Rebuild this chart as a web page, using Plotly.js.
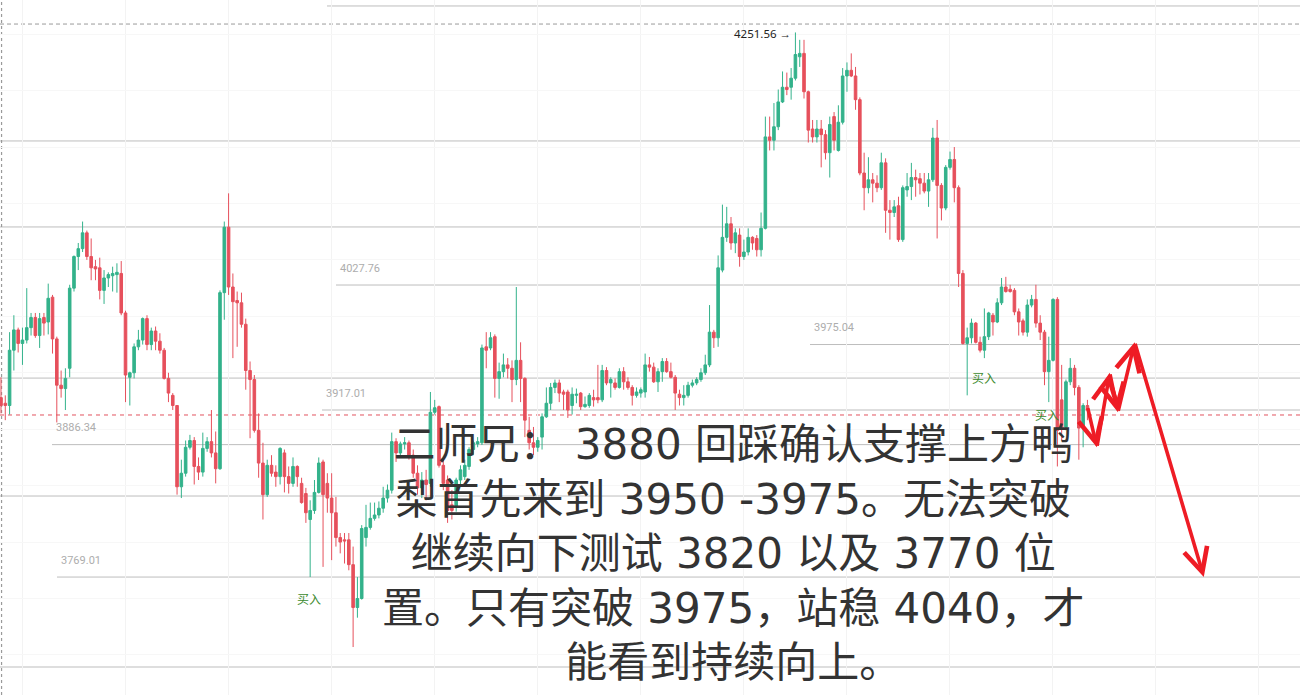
<!DOCTYPE html>
<html>
<head>
<meta charset="utf-8">
<script src="https://cdn.plot.ly/plotly-3.0.1.min.js"></script>
<style>html,body{margin:0;padding:0;background:#fff;}#chart{width:1300px;height:695px;}</style>
</head>
<body>
<div id="chart"></div>
<script>
// ---- candle data (price) ----
const open = [3928,3923,3921,3970,3988,3976,3979,3990,3999,3983,3999,3995,4017,3980,3939,3936,3954,4025,4053,4060,4074,4053,4044,4043,4023,4034,4036,4037,4038,4003,3946,3950,3973,3979,3998,3975,3987,3978,3970,3945,3930,3921,3849,3861,3884,3890,3867,3862,3883,3889,3879,3865,4021,4079,4026,4014,4012,3993,3952,3944,3899,3870,3842,3868,3862,3858,3879,3858,3852,3867,3852,3843,3820,3828,3844,3871,3852,3839,3826,3804,3802,3802,3780,3742,3750,3804,3813,3821,3824,3830,3839,3846,3889,3879,3887,3888,3877,3861,3848,3855,3852,3915,3920,3868,3855,3833,3831,3855,3858,3867,3882,3887,3888,3973,3972,3982,3945,3951,3957,3954,3944,3961,3945,3899,3888,3884,3893,3911,3923,3937,3941,3933,3933,3921,3930,3932,3920,3921,3928,3928,3926,3952,3941,3941,3937,3951,3942,3937,3930,3932,3933,3957,3955,3942,3951,3960,3951,3946,3931,3928,3930,3939,3941,3944,3950,3957,3986,3981,4041,4070,4082,4065,4072,4053,4057,4070,4069,4059,4078,4159,4156,4168,4190,4203,4203,4211,4230,4233,4199,4166,4159,4166,4161,4145,4177,4147,4172,4213,4218,4213,4192,4127,4114,4121,4118,4114,4136,4094,4092,4098,4068,4112,4115,4123,4122,4118,4111,4121,4158,4116,4096,4132,4139,4114,4038,3976,3981,3994,3977,3970,3982,4001,3995,4012,4026,4024,4023,4004,3996,3986,4010,4015,3994,3986,3951,3961,4015,3926,3902,3942,3954,3937,3901,3921];
const high = [3946,3930,3986,4001,3990,3990,4025,4003,4003,4003,4003,4029,4019,3982,3952,3954,4028,4054,4065,4084,4076,4069,4050,4052,4041,4039,4044,4047,4049,4005,3951,3976,3988,3999,4001,3990,3991,3985,3972,3950,3932,3921,3873,3890,3895,3893,3875,3897,3893,3917,3898,4023,4084,4109,4038,4022,4021,3998,3960,3948,3914,3888,3873,3877,3868,3884,3882,3867,3875,3868,3857,3848,3837,3855,3875,3873,3861,3861,3840,3808,3808,3808,3796,3769,3815,3833,3835,3835,3836,3849,3851,3897,3892,3889,3893,3890,3882,3868,3862,3864,3933,3926,3921,3873,3859,3846,3857,3868,3873,3884,3890,3893,3975,3986,3986,3984,3959,3967,3963,3961,4026,3977,3946,3911,3902,3893,3914,3937,3941,3944,3944,3935,3935,3937,3936,3933,3929,3932,3935,3957,3957,3955,3946,3945,3954,3955,3946,3939,3937,3937,3967,3964,3959,3954,3963,3963,3959,3948,3935,3939,3942,3944,3946,3954,3966,4010,3988,4054,4099,4097,4088,4078,4078,4068,4078,4071,4072,4092,4177,4177,4189,4201,4217,4216,4220,4251.56,4245,4245,4200,4174,4174,4174,4165,4177,4181,4187,4220,4225,4233,4221,4194,4145,4141,4127,4125,4145,4140,4103,4103,4106,4116,4127,4136,4130,4127,4127,4127,4167,4174,4118,4134,4146,4150,4116,4041,3990,3998,3995,3982,4007,4004,4003,4016,4034,4035,4028,4025,4007,3998,4015,4019,4028,4001,3988,3982,4016,4017,3957,3944,3963,3957,3939,3923,3926];
const low = [3914,3908,3913,3952,3968,3957,3976,3983,3981,3972,3983,3984,3967,3906,3928,3917,3946,4022,4041,4057,4050,4032,4032,4015,4011,4026,4022,4021,4001,3924,3921,3945,3970,3975,3970,3970,3970,3967,3944,3924,3917,3842,3839,3858,3882,3851,3855,3858,3880,3875,3852,3864,3997,4019,3963,3973,3990,3935,3892,3897,3857,3820,3840,3858,3849,3851,3844,3843,3849,3849,3834,3817,3769,3825,3843,3778,3826,3784,3796,3790,3781,3775,3707,3733,3749,3796,3811,3819,3821,3826,3835,3843,3871,3875,3882,3873,3857,3842,3839,3837,3849,3913,3866,3846,3817,3820,3827,3849,3855,3864,3877,3884,3886,3954,3970,3928,3927,3946,3945,3924,3939,3924,3893,3882,3877,3880,3882,3910,3917,3932,3924,3917,3910,3913,3923,3917,3919,3919,3920,3923,3924,3939,3928,3935,3936,3935,3935,3921,3928,3928,3928,3951,3941,3933,3942,3950,3945,3917,3921,3921,3928,3937,3939,3942,3948,3955,3972,3973,4039,4066,4059,4056,4044,4050,4054,4059,4053,4053,4077,4147,4147,4165,4189,4196,4192,4209,4221,4193,4154,4154,4154,4132,4139,4123,4147,4146,4170,4199,4212,4183,4125,4094,4109,4101,4110,4112,4074,4068,4088,4066,4066,4106,4103,4106,4108,4109,4097,4119,4069,4085,4094,4130,4101,4026,3975,3930,3976,3976,3968,3963,3979,3983,3994,4010,4021,4021,4001,3983,3983,3982,4008,3990,3979,3939,3924,3960,3867,3890,3899,3939,3930,3873,3884,3908];
const close = [3921,3921,3970,3988,3976,3979,3990,3999,3983,3998,3994,4016,3980,3939,3936,3945,4025,4053,4060,4074,4053,4043,4042,4023,4034,4037,4038,4039,4003,3948,3950,3973,3979,3998,3975,3987,3978,3970,3945,3932,3921,3849,3861,3884,3890,3867,3862,3883,3889,3879,3865,4021,4079,4026,4013,4012,3993,3952,3944,3899,3870,3842,3868,3861,3858,3883,3858,3852,3867,3858,3835,3826,3828,3844,3870,3842,3839,3826,3804,3800,3801,3780,3742,3750,3812,3813,3821,3824,3830,3839,3846,3889,3879,3887,3888,3877,3861,3848,3855,3851,3915,3919,3868,3852,3828,3828,3855,3864,3868,3882,3888,3889,3972,3970,3981,3945,3951,3957,3954,3944,3961,3945,3908,3888,3884,3890,3911,3923,3937,3941,3932,3931,3917,3931,3931,3920,3922,3930,3926,3926,3952,3941,3944,3937,3951,3942,3937,3930,3933,3935,3957,3955,3942,3951,3960,3951,3946,3932,3928,3930,3939,3941,3944,3950,3957,3986,3981,4043,4070,4082,4065,4074,4053,4057,4070,4065,4059,4078,4159,4156,4168,4190,4203,4201,4211,4232,4233,4199,4165,4159,4166,4161,4145,4170,4156,4172,4213,4218,4213,4192,4127,4114,4121,4118,4114,4136,4094,4092,4097,4068,4114,4115,4123,4121,4118,4111,4121,4158,4116,4096,4132,4139,4114,4038,3976,3981,3994,3977,3970,3982,4003,3995,4012,4026,4022,4022,4004,3995,3986,4010,4015,3994,3986,3951,3961,4015,3899,3902,3942,3954,3937,3901,3921,3917];

// ---- reference levels ----
const labeledLevels = [4027.76, 3975.04, 3917.01, 3886.34, 3769.01];
const levelLabels = ['4027.76', '3975.04', '3917.01', '3886.34', '3769.01'];
const plainLevels = [4275, 4155.4, 4079.2, 3945.3, 3840.8, 3689.3];
const topDashedLevel = 4259;
const redDashedLevel = 3912.6;
const highLabel = '4251.56 \u2192';
const highValue = 4251.56;

// ---- forecast path (bar index, price) ----
const pathX = [253, 255.2, 258.2, 260.1, 264, 280.1];
const pathY = [3920, 3884, 3950, 3915, 3977, 3769];

// ---- commentary ----
const textLines = [
  '二师兄： 3880 回踩确认支撑上方鸭',
  '梨首先来到 3950 -3975。无法突破',
  '继续向下测试 3820 以及 3770 位',
  '置。只有突破 3975，站稳 4040，才',
  '能看到持续向上。'
];
const buyLabel = '买入';

const W = 1300, H = 695;
const xIdx = open.map((_, i) => i);

const trace = {
  type: 'candlestick',
  x: xIdx, open: open, high: high, low: low, close: close,
  increasing: {line: {color: '#33b28b', width: 1}, fillcolor: '#33b28b'},
  decreasing: {line: {color: '#e6505c', width: 1}, fillcolor: '#e6505c'},
  whiskerwidth: 0,
  hoverinfo: 'skip'
};

const shapes = [];
const plainStarts = [327/W, 0, 0, 0, 0, 0];
plainLevels.forEach((lv, i) => shapes.push({type:'line', xref:'paper', yref:'y', x0:plainStarts[i], x1:1, y0:lv, y1:lv, line:{color:'#bdbdbd', width:1}, layer:'below'}));
const labelStarts = [336/W, 810/W, 322/W, 52/W, 57/W];
labeledLevels.forEach((lv, i) => shapes.push({type:'line', xref:'paper', yref:'y', x0:labelStarts[i], x1:1, y0:lv, y1:lv, line:{color:'#bdbdbd', width:1}, layer:'below'}));
shapes.push({type:'line', xref:'paper', yref:'y', x0:0, x1:1, y0:topDashedLevel, y1:topDashedLevel, line:{color:'#9a9a9a', width:1, dash:'4px,3px'}, layer:'below'});
shapes.push({type:'line', xref:'paper', yref:'y', x0:0, x1:1, y0:redDashedLevel, y1:redDashedLevel, line:{color:'#e2535f', width:1, dash:'4px,4px'}, layer:'below'});
shapes.push({type:'line', xref:'paper', yref:'paper', x0:0.0012, x1:0.0012, y0:0, y1:1, line:{color:'#9a9a9a', width:1.2, dash:'3px,3px'}, layer:'below'});

const annotations = [];
const labelX = [338, 812, 324, 54, 59];
labeledLevels.forEach((lv, i) => annotations.push({xref:'paper', yref:'y', x:labelX[i]/W, y:lv, yshift:17, xanchor:'left', yanchor:'middle', text:levelLabels[i], showarrow:false, font:{family:'Roboto, "Noto Sans", sans-serif', size:11, color:'#adadad'}}));
annotations.push({xref:'x', yref:'y', x:185, y:highValue, xshift:-2, yshift:-1, xanchor:'right', yanchor:'middle', text:highLabel, showarrow:false, font:{family:'"Noto Sans", Roboto, sans-serif', size:11.5, color:'#222'}});
const buyPos = [[309, 598], [984, 377], [1047, 414]];
buyPos.forEach(p => annotations.push({xref:'paper', yref:'paper', x:p[0]/W, y:1-p[1]/H, xanchor:'center', yanchor:'middle', text:buyLabel, showarrow:false, font:{family:'"Noto Sans CJK SC", sans-serif', size:12, color:'#3c8a2e'}}));
for (let i = 1; i < pathX.length; i++) {
  annotations.push({xref:'x', yref:'y', axref:'x', ayref:'y', x:pathX[i], y:pathY[i], ax:pathX[i-1], ay:pathY[i-1], text:'', showarrow:true, arrowhead:5, arrowsize:1.3, arrowwidth:3.6, arrowcolor:'#ee1c25', standoff:0, startstandoff:0});
}
// commentary paragraph
annotations.push({xref:'paper', yref:'paper', x:733/W, y:1-553/H, xanchor:'center', yanchor:'middle', align:'center', text:textLines.join('<br>'), showarrow:false, font:{family:'"DejaVu Sans", "Noto Sans CJK SC", sans-serif', size:42, color:'#333333'}});

const layout = {
  width: W, height: H,
  margin: {l:0, r:0, t:0, b:0},
  paper_bgcolor: '#ffffff', plot_bgcolor: '#ffffff',
  showlegend: false,
  boxgap: 0.4, boxgroupgap: 0,
  xaxis: {range:[-0.23, 302.5], rangeslider:{visible:false}, showticklabels:false, ticks:'', tickmode:'linear', tick0:4.9, dtick:24, showgrid:true, gridcolor:'#f3f3f3', zeroline:false, showline:false},
  yaxis: {range:[3664.5, 4280.3], showticklabels:false, ticks:'', tickmode:'linear', tick0:3700, dtick:50, showgrid:true, gridcolor:'#f7f7f7', zeroline:false, showline:false},
  shapes: shapes,
  annotations: annotations
};

Plotly.newPlot('chart', [trace], layout, {staticPlot:true, displayModeBar:false});
</script>
</body>
</html>
